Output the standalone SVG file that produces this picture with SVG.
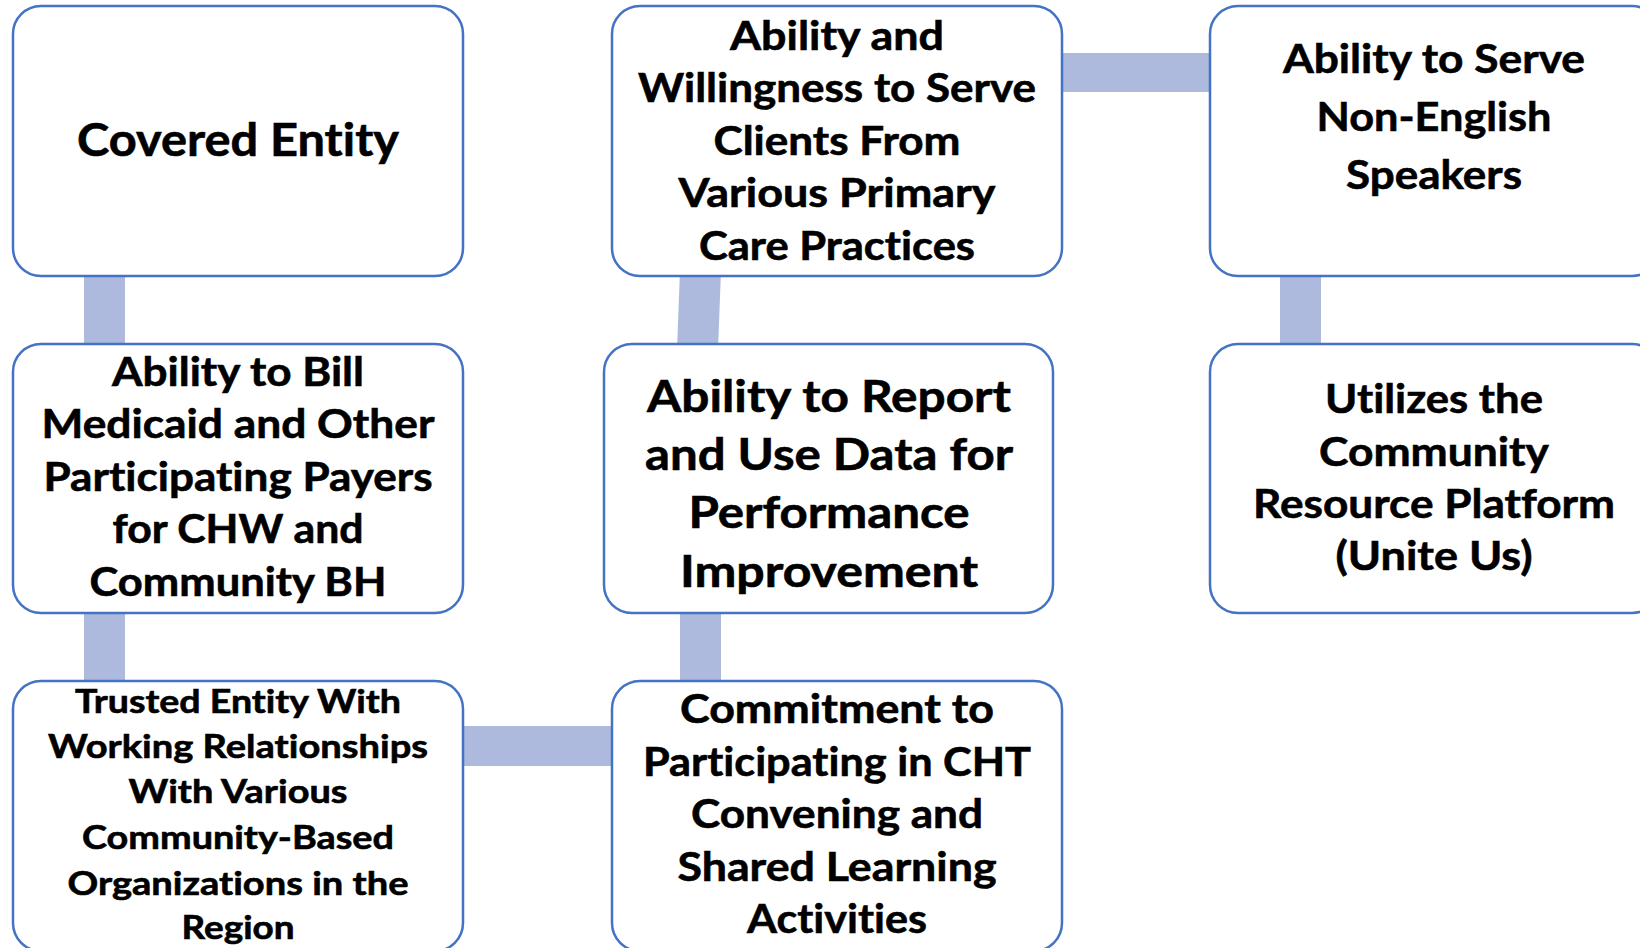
<svg xmlns="http://www.w3.org/2000/svg" width="1640" height="948" viewBox="0 0 1640 948">
  <style>
    .box { fill: #ffffff; stroke: #4472c4; stroke-width: 2.5; }
    .link { fill: #adbadd; stroke: none; }
    text { font-family: Lato, "Open Sans", "Liberation Sans", sans-serif; font-weight: bold; fill: #000000; stroke: #000000; stroke-width: 0.6; text-anchor: middle; font-variant-ligatures: none; }
    .f46 { font-size: 46px; }
    .f44 { font-size: 44px; }
    .f41 { font-size: 41px; }
    .f40 { font-size: 40px; }
    .f33 { font-size: 32.5px; }
  </style>
  <rect x="0" y="0" width="1640" height="948" fill="#ffffff"/>

  <!-- connectors (drawn beneath the boxes) -->
  <g id="connectors">
    <rect class="link" x="84" y="270" width="41" height="80"/>
    <rect class="link" x="84" y="606" width="41" height="80"/>
    <polygon class="link" points="680,270 721,270 718,350 677,350"/>
    <rect class="link" x="680" y="606" width="41" height="80"/>
    <rect class="link" x="1280" y="270" width="41" height="80"/>
    <rect class="link" x="1055" y="53" width="160" height="39"/>
    <rect class="link" x="456" y="726" width="162" height="40"/>
  </g>

  <g id="covered-entity">
    <rect class="box" x="13" y="6" width="450" height="270" rx="28"/>
    <text class="f46" x="238" y="156" textLength="322" lengthAdjust="spacingAndGlyphs">Covered Entity</text>
  </g>

  <g id="serve-primary-care">
    <rect class="box" x="612" y="6" width="450" height="270" rx="28"/>
    <text class="f40" x="837" y="50" textLength="214" lengthAdjust="spacingAndGlyphs">Ability and</text>
    <text class="f40" x="837" y="102" textLength="398" lengthAdjust="spacingAndGlyphs">Willingness to Serve</text>
    <text class="f40" x="837" y="155" textLength="247" lengthAdjust="spacingAndGlyphs">Clients From</text>
    <text class="f40" x="837" y="207" textLength="317" lengthAdjust="spacingAndGlyphs">Various Primary</text>
    <text class="f40" x="837" y="260" textLength="276" lengthAdjust="spacingAndGlyphs">Care Practices</text>
  </g>

  <g id="non-english">
    <rect class="box" x="1210" y="6" width="450" height="270" rx="28"/>
    <text class="f41" x="1434" y="73" textLength="302" lengthAdjust="spacingAndGlyphs">Ability to Serve</text>
    <text class="f41" x="1434" y="131" textLength="235" lengthAdjust="spacingAndGlyphs">Non-English</text>
    <text class="f41" x="1434" y="189" textLength="176" lengthAdjust="spacingAndGlyphs">Speakers</text>
  </g>

  <g id="bill-medicaid">
    <rect class="box" x="13" y="344" width="450" height="269" rx="28"/>
    <text class="f40" x="238" y="386" textLength="252" lengthAdjust="spacingAndGlyphs">Ability to Bill</text>
    <text class="f40" x="238" y="438" textLength="393" lengthAdjust="spacingAndGlyphs">Medicaid and Other</text>
    <text class="f40" x="238" y="491" textLength="389" lengthAdjust="spacingAndGlyphs">Participating Payers</text>
    <text class="f40" x="238" y="543" textLength="251" lengthAdjust="spacingAndGlyphs">for CHW and</text>
    <text class="f40" x="238" y="596" textLength="297" lengthAdjust="spacingAndGlyphs">Community BH</text>
  </g>

  <g id="report-data">
    <rect class="box" x="604" y="344" width="449" height="269" rx="28"/>
    <text class="f44" x="829" y="412" textLength="364" lengthAdjust="spacingAndGlyphs">Ability to Report</text>
    <text class="f44" x="829" y="470" textLength="368" lengthAdjust="spacingAndGlyphs">and Use Data for</text>
    <text class="f44" x="829" y="528" textLength="281" lengthAdjust="spacingAndGlyphs">Performance</text>
    <text class="f44" x="829" y="587" textLength="298" lengthAdjust="spacingAndGlyphs">Improvement</text>
  </g>

  <g id="resource-platform">
    <rect class="box" x="1210" y="344" width="450" height="269" rx="28"/>
    <text class="f41" x="1434" y="413" textLength="218" lengthAdjust="spacingAndGlyphs">Utilizes the</text>
    <text class="f41" x="1434" y="466" textLength="230" lengthAdjust="spacingAndGlyphs">Community</text>
    <text class="f41" x="1434" y="518" textLength="362" lengthAdjust="spacingAndGlyphs">Resource Platform</text>
    <text class="f41" x="1434" y="570" textLength="197" lengthAdjust="spacingAndGlyphs">(Unite Us)</text>
  </g>

  <g id="trusted-entity">
    <rect class="box" x="13" y="681" width="450" height="270" rx="28"/>
    <text class="f33" x="238" y="713" textLength="326" lengthAdjust="spacingAndGlyphs">Trusted Entity With</text>
    <text class="f33" x="238" y="758" textLength="380" lengthAdjust="spacingAndGlyphs">Working Relationships</text>
    <text class="f33" x="238" y="803" textLength="219" lengthAdjust="spacingAndGlyphs">With Various</text>
    <text class="f33" x="238" y="849" textLength="312" lengthAdjust="spacingAndGlyphs">Community-Based</text>
    <text class="f33" x="238" y="895" textLength="341" lengthAdjust="spacingAndGlyphs">Organizations in the</text>
    <text class="f33" x="238" y="939" textLength="113" lengthAdjust="spacingAndGlyphs">Region</text>
  </g>

  <g id="cht-convening">
    <rect class="box" x="612" y="681" width="450" height="270" rx="28"/>
    <text class="f41" x="837" y="723" textLength="314" lengthAdjust="spacingAndGlyphs">Commitment to</text>
    <text class="f41" x="837" y="776" textLength="388" lengthAdjust="spacingAndGlyphs">Participating in CHT</text>
    <text class="f41" x="837" y="828" textLength="292" lengthAdjust="spacingAndGlyphs">Convening and</text>
    <text class="f41" x="837" y="881" textLength="319" lengthAdjust="spacingAndGlyphs">Shared Learning</text>
    <text class="f41" x="837" y="933" textLength="180" lengthAdjust="spacingAndGlyphs">Activities</text>
  </g>
</svg>
